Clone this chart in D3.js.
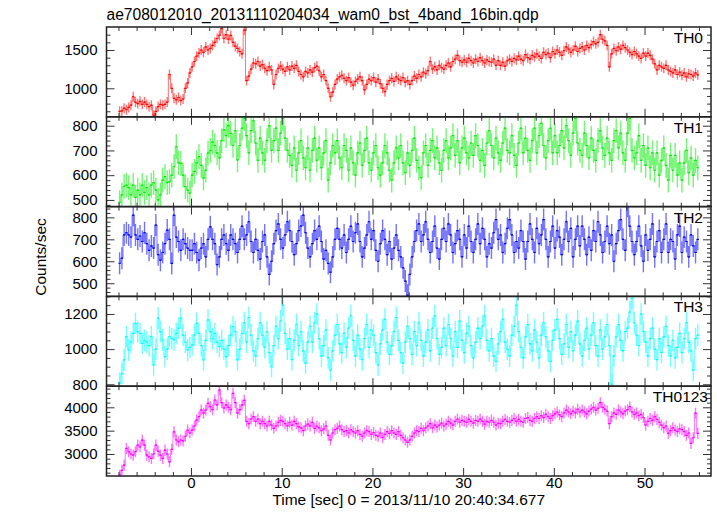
<!DOCTYPE html>
<html><head><meta charset="utf-8">
<script src="https://cdn.jsdelivr.net/npm/d3@7"></script>
<style>body{margin:0;background:#fff}</style>
</head><body><svg id="c" width="717" height="516"></svg>
<script>
const title = "ae708012010_20131110204034_wam0_bst_4band_16bin.qdp";
const xLabel = "Time [sec] 0 = 2013/11/10 20:40:34.677";
const yLabel = "Counts/sec";
const binStart = -8, binWidth = 0.25;
const xMajorTicks = [0, 10, 20, 30, 40, 50];
const bandNames = ["TH0", "TH1", "TH2", "TH3", "TH0123"];

const th0 = [
700,705,740,720, 750,780,890,820, 800,830,790,820, 790,760,780,650,
700,760,790,780, 790,820,1180,1000, 870,850,880,840, 860,1000,1070,1200,
1280,1350,1420,1460, 1500,1470,1540,1500, 1520,1560,1600,1650, 1690,1780,1650,1700,
1640,1690,1600,1550, 1520,1480,1450,1760, 1100,1160,1250,1330, 1320,1350,1290,1310,
1260,1230,1280,1240, 1050,1180,1260,1290, 1250,1220,1280,1240, 1290,1260,1300,1220,
1180,1150,1220,1200, 1240,1210,1270,1290, 1230,1150,1180,1100, 1000,890,950,1050,
1120,1150,1170,1130, 1100,1140,1080,1040, 1090,1120,1150,1100, 980,1050,1120,1100,
1140,1080,1120,1060, 1000,955,1050,1100, 1130,1090,1150,1120, 1100,1140,1080,1100,
1050,1100,1160,1130, 1180,1150,1210,1190, 1230,1350,1250,1280, 1240,1300,1270,1250,
1300,1330,1280,1350, 1380,1430,1360,1340, 1370,1340,1390,1360, 1330,1380,1350,1400,
1360,1330,1370,1350, 1340,1380,1300,1360, 1300,1340,1290,1360, 1380,1350,1390,1370,
1420,1380,1360,1440, 1400,1380,1430,1410, 1450,1420,1390,1470, 1440,1460,1400,1480,
1450,1500,1470,1430, 1490,1540,1510,1470, 1500,1550,1480,1520, 1540,1500,1560,1530,
1570,1610,1580,1600, 1700,1640,1620,1560, 1280,1450,1520,1490, 1540,1510,1560,1530,
1500,1470,1440,1480, 1450,1420,1390,1460, 1420,1460,1430,1380, 1320,1240,1300,1280,
1260,1300,1240,1220, 1200,1240,1180,1210, 1170,1200,1150,1190, 1180,1160,1200,1175
];
const th1 = [
490,520,555,560, 550,520,560,510, 540,520,560,530, 550,520,560,570,
540,500,520,580, 594,570,574,600, 635,715,650,648, 600,554,540,527,
600,615,650,675, 640,588,620,689, 700,735,720,690, 670,740,783,760,
800,769,720,780, 662,720,790,830, 760,690,780,820, 730,660,750,690,
660,740,800,700, 740,790,700,770, 830,750,700,680, 640,710,620,690,
740,670,630,710, 620,700,750,660, 710,630,690,740, 580,650,720,690,
740,670,630,720, 700,620,710,650, 600,690,730,640, 700,750,650,620,
690,720,630,600, 650,720,690,620, 580,650,710,670, 720,650,610,690,
640,700,750,660, 630,590,690,720, 640,700,740,670, 710,650,620,700,
740,670,710,760, 680,740,650,710, 750,690,670,730, 680,760,720,660,
700,640,730,780, 720,670,750,690, 660,730,790,700, 690,760,680,640,
730,790,690,750, 700,660,740,790, 690,760,810,720, 670,740,790,690,
760,690,720,780, 710,800,740,680, 770,830,730,700, 680,770,720,670,
750,700,660,740, 780,710,680,750, 690,660,740,780, 710,770,690,660,
770,830,700,670, 690,760,660,720, 640,710,630,690, 620,690,600,660,
710,640,580,680, 620,680,600,650, 580,650,700,610, 670,600,660,630
];
const th2 = [
591,614,720,730, 720,710,810,720, 700,715,690,730, 680,650,670,660,
765,630,605,640, 680,742,700,590, 810,710,690,650, 700,680,660,650,
650,680,640,605, 660,680,620,700, 757,700,680,585, 620,700,720,680,
650,720,700,680, 640,700,760,700, 720,780,690,640, 700,650,610,690,
720,620,540,600, 680,740,770,700, 660,720,780,740, 690,630,680,740,
760,810,730,660, 620,680,740,700, 760,690,610,650, 590,550,620,700,
750,700,660,720, 640,700,760,690, 730,770,690,620, 660,720,780,700,
740,650,600,680, 740,700,630,690, 610,660,720,650, 620,570,510,445,
540,620,690,740, 770,690,720,780, 700,640,690,760, 660,610,700,750,
690,770,720,640, 680,740,700,620, 720,660,760,690, 640,700,770,680,
750,700,620,680, 660,730,790,700, 720,640,680,750, 790,720,640,690,
660,740,690,610, 690,770,700,640, 750,680,720,790, 700,620,690,760,
660,740,710,630, 700,780,690,750, 620,700,760,670, 760,700,630,710,
650,740,690,780, 720,640,690,760, 680,720,600,680, 740,790,700,650,
850,760,690,630, 690,760,670,600, 720,650,700,770, 620,690,740,640,
700,770,640,700, 690,610,720,760, 640,710,690,620, 720,670,640,700
];
const th3 = [
806,860,939,1071, 995,1040,1090,1147, 1100,1090,1033,1050, 1040,1020,1071,910,
1000,1176,1100,1052, 957,1000,1071,1060, 1052,1090,1120,1176, 1080,1040,995,1010,
1024,1080,1147,1090, 1020,939,1050,1166, 1100,1060,1090,1040, 1014,1050,1000,957,
1020,1080,1128,1100, 939,1000,1090,1150, 1040,1180,1080,990, 960,1060,1150,1080,
1010,1100,980,900, 1020,1130,1060,1160, 1250,1090,1000,1060, 940,1050,1140,1020,
1100,990,920,1040, 1130,1040,1150,1200, 1060,960,1020,1110, 950,880,990,1080,
1140,1030,980,1090, 1010,1120,1190,1050, 960,1080,1000,940, 1060,1140,1010,1110,
1080,980,910,1030, 1110,1170,1040,970, 1020,1100,1180,1050, 980,920,1040,1130,
1060,970,1100,1020, 1150,1050,960,1040, 1110,990,1120,1190, 1060,970,1010,1120,
1020,1140,1060,960, 1100,1010,1160,1050, 980,1090,1130,1020, 950,1040,1120,1060,
1130,1190,1050,990, 1060,960,930,1030, 1100,1170,1040,1000, 960,1080,1130,1250,
1100,1010,950,1070, 1140,1030,990,1110, 1040,950,1080,1150, 1070,990,930,1050,
1110,1170,1060,970, 1030,1140,1010,1100, 990,1080,1160,1030, 960,1050,1120,1000,
1080,1150,1020,960, 1110,1000,1070,1140, 1020,800,960,1070, 1140,1050,990,1100,
1120,1210,1290,1150, 1080,1020,1200,1100, 1040,960,1060,1120, 1000,940,1060,980,
1070,1130,1020,960, 1050,950,1010,1090, 980,1060,1150,1040, 990,880,1060,1080
];
const th0123 = [
2547,2650,2762,3120, 3047,3000,2976,3050, 3190,3150,3298,3190, 2976,2940,2905,3000,
3190,3060,2976,2905, 3083,3000,2833,3100, 3476,3300,3260,3300, 3280,3380,3513,3450,
3513,3600,3727,3800, 3942,3875,3942,4086, 4013,3950,4157,4050, 4371,4100,3985,4050,
4000,3950,4300,4100, 3875,3950,4050,4150, 3700,3650,3750,3800, 3700,3750,3650,3700,
3650,3600,3700,3620, 3550,3600,3680,3720, 3700,3650,3600,3680, 3620,3700,3650,3580,
3560,3500,3600,3640, 3600,3680,3550,3600, 3560,3500,3540,3600, 3400,3300,3450,3520,
3550,3600,3520,3480, 3500,3450,3520,3480, 3450,3500,3420,3380, 3450,3500,3480,3420,
3460,3400,3380,3450, 3350,3420,3480,3440, 3500,3450,3420,3480, 3400,3350,3300,3250,
3300,3380,3450,3500, 3480,3550,3500,3560, 3600,3650,3560,3620, 3580,3620,3660,3600,
3640,3700,3660,3620, 3700,3750,3680,3720, 3700,3680,3740,3700, 3660,3720,3700,3750,
3700,3640,3700,3680, 3720,3680,3620,3660, 3650,3700,3740,3700, 3680,3720,3760,3700,
3740,3700,3680,3760, 3780,3720,3700,3760, 3800,3760,3820,3780, 3850,3800,3760,3820,
3860,3900,3840,3800, 3880,3940,3900,3860, 3920,3880,3960,3900, 3940,3900,3860,3920,
3960,4000,3940,3980, 4100,4000,3960,3920, 3650,3800,3880,3850, 3942,3900,3860,3920,
3950,4013,3900,3850, 3880,3820,3850,3780, 3620,3700,3760,3720, 3800,3740,3680,3620,
3560,3600,3442,3500, 3560,3513,3480,3540, 3520,3480,3400,3450, 3227,3350,3875,3442
];
const bandValues = [th0, th1, th2, th3, th0123];
const bandErrors = [65, 50, 50, 62, 118];
const bandColors = ["#ff0000", "#00ee00", "#0000ff", "#00ffff", "#ff00ff"];
const yDomains = [[628, 1800], [473, 836], [440, 849], [789, 1300], [2529, 4452]];
const yMajorTicks = [[1000, 1500], [500, 600, 700, 800], [500, 600, 700, 800], [800, 1000, 1200], [3000, 3500, 4000]];
const yMinorStep = [100, 20, 20, 50, 100];

const svg = d3.select("#c");
const L = 106.5, R = 711, T = 27, B = 476;
const nP = bandNames.length, pH = (B - T) / nP;
const x = d3.scaleLinear().domain([-9.32, 57.33]).range([L, R]);
const font = "'Liberation Sans', Arial, sans-serif";
const xMinor = d3.range(-8, 58, 2).filter(v => xMajorTicks.indexOf(v) < 0);

svg.append("text").attr("x", L).attr("y", 20).attr("font-family", font).attr("font-size", 15.6)
  .attr("fill", "#000").text(title);

bandNames.forEach((name, i) => {
  const top = T + i * pH, bot = top + pH;
  const y = d3.scaleLinear().domain(yDomains[i]).range([bot, top]);
  const g = svg.append("g");
  const clipId = "clip" + i;
  svg.append("clipPath").attr("id", clipId).append("rect")
    .attr("x", L).attr("y", top).attr("width", R - L).attr("height", pH);
  const data = bandValues[i].map((v, k) => ({t: binStart + binWidth * (k + 0.5), v}));
  const e = bandErrors[i];
  const dg = g.append("g").attr("clip-path", `url(#${clipId})`);
  dg.selectAll("line.err").data(data).join("line").attr("class", "err")
    .attr("x1", d => x(d.t)).attr("x2", d => x(d.t))
    .attr("y1", d => y(d.v - e)).attr("y2", d => y(d.v + e))
    .attr("stroke", bandColors[i]).attr("stroke-opacity", 0.55).attr("stroke-width", 1.4);
  dg.selectAll("line.bin").data(data).join("line").attr("class", "bin")
    .attr("x1", d => x(d.t - binWidth / 2)).attr("x2", d => x(d.t + binWidth / 2))
    .attr("y1", d => y(d.v)).attr("y2", d => y(d.v))
    .attr("stroke", bandColors[i]).attr("stroke-width", 1.2);
  dg.append("path").datum(data)
    .attr("d", d3.line().x(d => x(d.t)).y(d => y(d.v)).curve(d3.curveStep))
    .attr("fill", "none").attr("stroke", bandColors[i]).attr("stroke-opacity", 0.55).attr("stroke-width", 1);

  const yMinor = d3.range(Math.ceil(yDomains[i][0] / yMinorStep[i]) * yMinorStep[i], yDomains[i][1], yMinorStep[i])
    .filter(v => yMajorTicks[i].indexOf(v) < 0);
  const tickStyle = sel => { sel.select(".domain").remove(); sel.selectAll(".tick line").attr("stroke", "#333").attr("stroke-width", 1); };
  g.append("g").attr("transform", `translate(${L},0)`)
    .call(d3.axisLeft(y).tickValues(yMajorTicks[i]).tickSize(-8).tickPadding(9).tickFormat(d3.format("d")))
    .call(tickStyle)
    .call(s => s.selectAll("text").attr("font-family", font).attr("font-size", 15).attr("fill", "#000"));
  g.append("g").attr("transform", `translate(${L},0)`)
    .call(d3.axisLeft(y).tickValues(yMinor).tickSize(-4).tickFormat("")).call(tickStyle);
  g.append("g").attr("transform", `translate(${R},0)`)
    .call(d3.axisRight(y).tickValues(yMajorTicks[i]).tickSize(-8).tickFormat("")).call(tickStyle);
  g.append("g").attr("transform", `translate(${R},0)`)
    .call(d3.axisRight(y).tickValues(yMinor).tickSize(-4).tickFormat("")).call(tickStyle);
  g.append("g").attr("transform", `translate(0,${top})`)
    .call(d3.axisTop(x).tickValues(xMajorTicks).tickSize(-8).tickFormat("")).call(tickStyle);
  g.append("g").attr("transform", `translate(0,${top})`)
    .call(d3.axisTop(x).tickValues(xMinor).tickSize(-4).tickFormat("")).call(tickStyle);
  const bx = g.append("g").attr("transform", `translate(0,${bot})`)
    .call(d3.axisBottom(x).tickValues(xMajorTicks).tickSize(-8).tickPadding(1)
      .tickFormat(i === nP - 1 ? d3.format("d") : "")).call(tickStyle);
  bx.selectAll("text").attr("font-family", font).attr("font-size", 15).attr("fill", "#000");
  g.append("g").attr("transform", `translate(0,${bot})`)
    .call(d3.axisBottom(x).tickValues(xMinor).tickSize(-4).tickFormat("")).call(tickStyle);

  g.append("rect").attr("x", L).attr("y", top).attr("width", R - L).attr("height", pH)
    .attr("fill", "none").attr("stroke", "#222").attr("stroke-width", 1.5);
  svg.append("text").attr("x", i === nP - 1 ? 708 : 703).attr("y", top + 16)
    .attr("text-anchor", "end").attr("font-family", font).attr("font-size", 15.5).attr("fill", "#000").text(name);
});

svg.append("text").attr("x", (L + R) / 2).attr("y", 505).attr("text-anchor", "middle")
  .attr("font-family", font).attr("font-size", 15.5).attr("fill", "#000").text(xLabel);
svg.append("text").attr("transform", `translate(46,257) rotate(-90)`).attr("text-anchor", "middle")
  .attr("font-family", font).attr("font-size", 15.5).attr("fill", "#000").text(yLabel);
</script></body></html>
